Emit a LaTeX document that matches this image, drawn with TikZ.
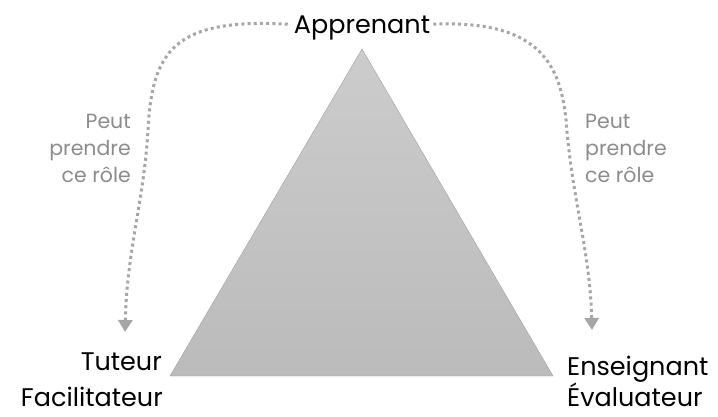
\documentclass[tikz,border=0pt]{standalone}
\usepackage{fontspec}
\setmainfont{Poppins}
\usepackage{xcolor}
\usetikzlibrary{arrows.meta,positioning,calc,shadings}
\definecolor{dotgray}{HTML}{A6A6A6}
\definecolor{notegray}{HTML}{8C8C8C}
\definecolor{topgray}{HTML}{CCCCCC}
\definecolor{botgray}{HTML}{BBBBBB}

\begin{document}
\begin{tikzpicture}[x=1pt,y=-1pt,
  role/.style={inner sep=0pt,text depth=0pt,font=\fontsize{25.5}{30}\selectfont},
  note/.style={inner sep=0pt,text=notegray,align=left,font=\fontsize{20.5}{27}\selectfont},
  link/.style={draw=dotgray,line width=3pt,dash pattern=on 3pt off 3.2pt,
    -{Triangle[length=12pt,width=14pt,fill=dotgray]}}]
\useasboundingbox (0,0) rectangle (718,416);

\shade[top color=topgray,bottom color=botgray,draw=botgray!85!black]
  (362,49) -- (553,376) -- (170,376) -- cycle;

\node[role,anchor=base] (app) at (362,33) {Apprenant};
\node[role,anchor=base east] (tut) at (162,370) {Tuteur};
\node[role,anchor=base east] (fac) at (163,406) {Facilitateur};
\node[role,anchor=base west] (ens) at (567,375) {Enseignant};
\node[role,anchor=base west] (eva) at (567,406) {Évaluateur};

\node[note,align=right,anchor=north east] (nl) at (131,114) {Peut\\prendre\\ce rôle};
\node[note,anchor=north west] (nr) at (585,114) {Peut\\prendre\\ce rôle};

\coordinate (tl) at (125,332);
\coordinate (tr) at (592,330);

% role arrows
\draw[link] ([xshift=-6pt]app.west) .. controls (175,18) and (152,50) .. (148,130)
  .. controls (144,200) and (127,250) .. (tl);
\draw[link] ([xshift=3pt]app.east) .. controls (535,20) and (560,60) .. (566,120)
  .. controls (572,200) and (590,250) .. (tr);
\end{tikzpicture}
\end{document}
